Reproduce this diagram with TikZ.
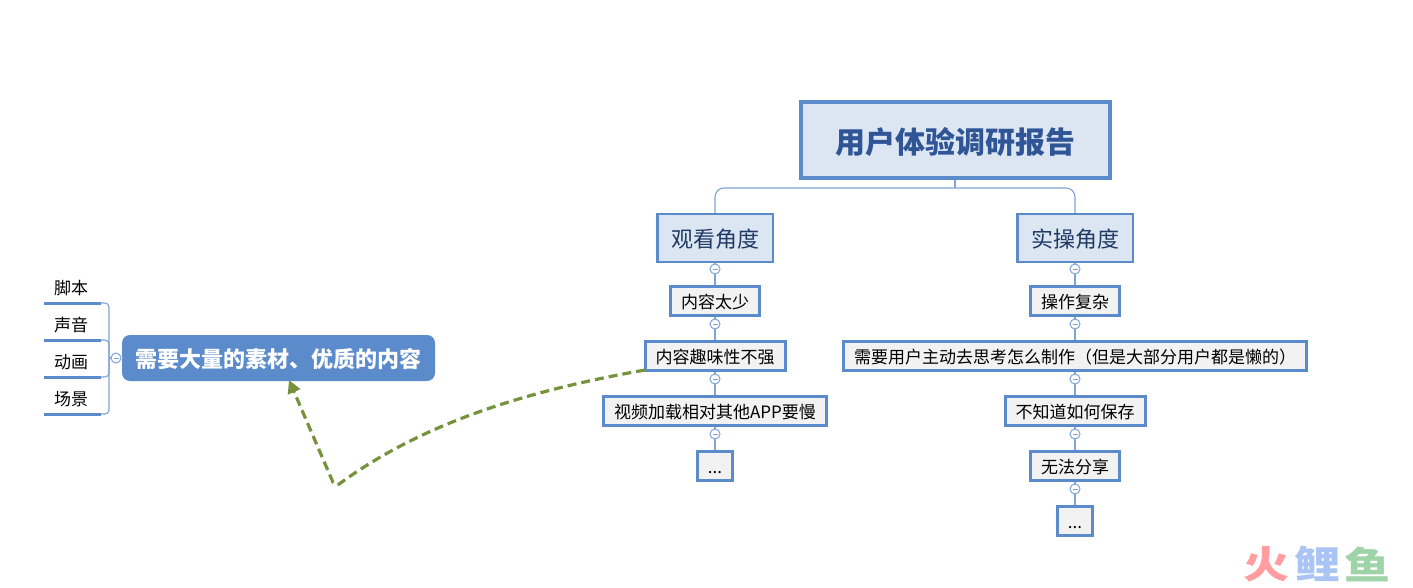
\documentclass[tikz,border=0pt]{standalone}
\usepackage{fontspec}
\setmainfont{Noto Sans CJK SC}
\usetikzlibrary{arrows.meta}
\definecolor{boxblue}{HTML}{5B8BCB}
\definecolor{linkblue}{HTML}{7FA3D4}
\definecolor{titlefill}{HTML}{DCE6F2}
\definecolor{leaffill}{HTML}{F2F2F2}
\definecolor{titletext}{HTML}{2F5597}
\definecolor{subtext}{HTML}{1F3A64}
\definecolor{dashgreen}{HTML}{76923C}
\definecolor{stampred}{HTML}{FF9DA0}
\definecolor{stampblue}{HTML}{A9C4F5}
\definecolor{stampgreen}{HTML}{9FD4A8}
\begin{document}
\begin{tikzpicture}[x=1pt,y=-1pt,
link/.style={draw=linkblue,line width=1.1pt},
fold/.style={shape=circle,draw=linkblue,fill=white,line width=1pt,inner sep=0,minimum size=10pt,path picture={\draw[linkblue,line width=1pt] ([xshift=2.5pt]path picture bounding box.west) -- ([xshift=-2.5pt]path picture bounding box.east);}},
label/.style={text height=#1,text depth=0pt},
title/.style={label=26.4pt,draw=boxblue,fill=titlefill,line width=4pt,text=titletext,font=\fontsize{30}{34}\selectfont\bfseries,minimum width=309pt,minimum height=76pt,inner sep=0},
sub/.style={label=19.4pt,draw=boxblue,fill=titlefill,line width=2.5pt,text=subtext,font=\fontsize{22}{26}\selectfont,minimum height=47.5pt,inner xsep=13.75pt,inner ysep=0},
leaf/.style={label=15pt,draw=boxblue,fill=leaffill,line width=3pt,text=black,font=\fontsize{17}{20}\selectfont,minimum height=29pt,minimum width=34pt,inner xsep=10.5pt,inner ysep=0},
topic/.style={label=19.4pt,fill=boxblue,rounded corners=8pt,text=white,font=\fontsize{22}{26}\selectfont\bfseries,minimum width=313pt,minimum height=46pt,inner sep=0},
item/.style={label=15pt,anchor=south,font=\fontsize{17}{20}\selectfont,text width=57pt,inner sep=0,minimum height=32pt,execute at begin node={\hskip10pt},append after command={(\tikzlastnode.south west) edge[draw=boxblue,line width=3pt] (\tikzlastnode.south east)}},
stamp/.style={font=\fontsize{46}{48}\selectfont\bfseries,yscale=0.82,inner sep=0}]
\def\colA{715};
\def\colB{1075};

\useasboundingbox (0,0) rectangle (1413,588);

\node[title] (root) at (955,140) {用户体验调研报告};
\coordinate (bus) at (955,188);
\node[sub] (view) at (\colA,238) {观看角度};
\node[sub] (act) at (\colB,238) {实操角度};
\draw[link] (root.south) -- (bus);
\draw[link,rounded corners=9pt] (bus) -| (view.north);
\draw[link,rounded corners=9pt] (bus) -| (act.north);

\node[leaf] (va) at (\colA,300.5) {内容太少};
\node[leaf] (vb) at (\colA,356) {内容趣味性不强};
\node[leaf] (vc) at (\colA,411) {视频加载相对其他APP要慢};
\node[leaf] (vd) at (\colA,466) {...};
\draw[link] (view.south) -- (va.north);
\draw[link] (va.south) -- (vb.north);
\draw[link] (vb.south) -- (vc.north);
\draw[link] (vc.south) -- (vd.north);
\node[fold] (fva) at (\colA,269) {};
\node[fold] (fvb) at (\colA,324) {};
\node[fold] (fvc) at (\colA,379) {};
\node[fold] (fvd) at (\colA,434) {};

\node[leaf] (aa) at (\colB,300.5) {操作复杂};
\node[leaf] (ab) at (\colB,356) {需要用户主动去思考怎么制作（但是大部分用户都是懒的）};
\node[leaf] (ac) at (\colB,411) {不知道如何保存};
\node[leaf] (ad) at (\colB,466) {无法分享};
\node[leaf] (ae) at (\colB,521) {...};
\draw[link] (act.south) -- (aa.north);
\draw[link] (aa.south) -- (ab.north);
\draw[link] (ab.south) -- (ac.north);
\draw[link] (ac.south) -- (ad.north);
\draw[link] (ad.south) -- (ae.north);
\node[fold] (faa) at (\colB,269) {};
\node[fold] (fab) at (\colB,324) {};
\node[fold] (fac) at (\colB,379) {};
\node[fold] (fad) at (\colB,434) {};
\node[fold] (fae) at (\colB,489) {};

\node[topic] (need) at (278.5,358) {需要大量的素材、优质的内容};
\node[fold] (fneed) at (116,358) {};
\coordinate (trunk) at (109,358);
\node[item] (ia) at (72.5,303) {脚本};
\node[item] (ib) at (72.5,340) {声音};
\node[item] (ic) at (72.5,377) {动画};
\node[item] (id) at (72.5,414) {场景};
\draw[link] (need.west) -- (fneed.east);
\draw[link] (fneed.west) -- (trunk);
\draw[link,rounded corners=4pt] (ia.south east) -| (trunk);
\draw[link,rounded corners=4pt] (ib.south east) -| (trunk);
\draw[link,rounded corners=4pt] (ic.south east) -| (trunk);
\draw[link,rounded corners=4pt] (id.south east) -| (trunk);

\coordinate (from) at (645,370);
\coordinate (bend) at (335,487);
\coordinate (to) at (289,380);
\draw[dashgreen,line width=3.2pt,dash pattern=on 9pt off 5pt,rounded corners=5pt,-{Triangle[length=13pt,width=13pt]}] (from) .. controls (520,392) and (420,425) .. (bend) -- (to);

\node[stamp,text=stampred] (wa) at (1266,564) {火};
\node[stamp,text=stampblue] (wb) at (1317,564) {鲤};
\node[stamp,text=stampgreen] (wc) at (1367,564) {鱼};
\end{tikzpicture}
\end{document}
